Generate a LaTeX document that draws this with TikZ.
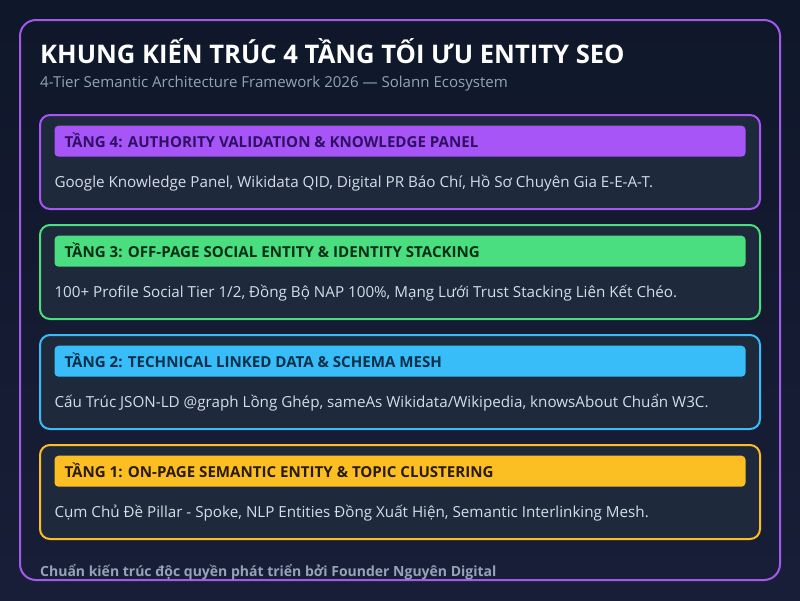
\documentclass[tikz,border=0pt]{standalone}
\usepackage{fontspec}
\setmainfont{Open Sans}
\usetikzlibrary{positioning}

\definecolor{bgtop}{HTML}{0F172A}
\definecolor{bgbottom}{HTML}{191E38}
\definecolor{framecol}{HTML}{A259EC}
\definecolor{cardfill}{HTML}{1E293B}
\definecolor{bodytext}{HTML}{D5DDE8}
\definecolor{mutedtext}{HTML}{94A3B8}
\definecolor{tierfour}{HTML}{A855F7}
\definecolor{tierthree}{HTML}{4ADE80}
\definecolor{tiertwo}{HTML}{38BDF8}
\definecolor{tierone}{HTML}{FBBF24}
\definecolor{darkfour}{HTML}{2E1065}
\definecolor{darkthree}{HTML}{052E16}
\definecolor{darktwo}{HTML}{082F49}
\definecolor{darkone}{HTML}{2A1B03}

\tikzset{
  card/.style = {draw = #1, line width = 2pt, fill = cardfill,
    rounded corners = 10pt, minimum width = 720pt, minimum height = 94pt,
    inner sep = 0pt},
  bar/.style = {fill = #1, rounded corners = 4pt, minimum width = 691pt,
    minimum height = 31pt, inner sep = 0pt},
  head/.style = {text = #1, font = \bfseries\fontsize{15.1}{18}\selectfont,
    inner sep = 0pt, text height = 15pt, text depth = 2.8pt},
  body/.style = {text = bodytext, font = \fontsize{15.2}{18}\selectfont,
    inner sep = 0pt, text height = 11pt, text depth = 4pt}
}

\begin{document}
\begin{tikzpicture}[
    x = 1pt, y = -1pt, % one unit = one pixel, y runs downwards
    ]
    \useasboundingbox (0,0) rectangle (800,600);
    \fill[top color = bgtop, bottom color = bgbottom] (0,0) rectangle (800,600);

    % outer frame
    \node[draw = framecol, line width = 2pt, rounded corners = 16pt,
      minimum width = 760pt, minimum height = 560pt, inner sep = 0pt]
      (frame) at (400,300) {};

    % title block
    \node[anchor = base west, inner sep = 0pt, text = white,
      font = \bfseries\fontsize{25.6}{30}\selectfont] (title) at (40,63.5)
      {KHUNG KIẾN TRÚC 4 TẦNG TỐI ƯU ENTITY SEO};
    \node[anchor = base west, inner sep = 0pt, text = mutedtext,
      font = \fontsize{15.05}{18}\selectfont] (subtitle) at (40,87.5)
      {4-Tier Semantic Architecture Framework 2026 — Solann Ecosystem};

    % tier 4
    \node[card = tierfour] (t4) at (400,162) {};
    \node[bar = tierfour, below = 11.5pt of t4.north] (h4) {};
    \node[head = darkfour, right = 10pt of h4.west] (h4t)
      {TẦNG 4: AUTHORITY VALIDATION \& KNOWLEDGE PANEL};
    \node[body, below right = 19.3pt and 0pt of h4.south west] (b4)
      {Google Knowledge Panel, Wikidata QID, Digital PR Báo Chí, Hồ Sơ Chuyên Gia E-E-A-T.};

    % tier 3
    \node[card = tierthree] (t3) at (400,272) {};
    \node[bar = tierthree, below = 11.5pt of t3.north] (h3) {};
    \node[head = darkthree, right = 10pt of h3.west] (h3t)
      {TẦNG 3: OFF-PAGE SOCIAL ENTITY \& IDENTITY STACKING};
    \node[body, below right = 19.3pt and 0pt of h3.south west] (b3)
      {100+ Profile Social Tier 1/2, Đồng Bộ NAP 100\%, Mạng Lưới Trust Stacking Liên Kết Chéo.};

    % tier 2
    \node[card = tiertwo] (t2) at (400,382) {};
    \node[bar = tiertwo, below = 11.5pt of t2.north] (h2) {};
    \node[head = darktwo, right = 10pt of h2.west] (h2t)
      {TẦNG 2: TECHNICAL LINKED DATA \& SCHEMA MESH};
    \node[body, below right = 19.3pt and 0pt of h2.south west] (b2)
      {Cấu Trúc JSON-LD @graph Lồng Ghép, sameAs Wikidata/Wikipedia, knowsAbout Chuẩn W3C.};

    % tier 1
    \node[card = tierone] (t1) at (400,492) {};
    \node[bar = tierone, below = 11.5pt of t1.north] (h1) {};
    \node[head = darkone, right = 10pt of h1.west] (h1t)
      {TẦNG 1: ON-PAGE SEMANTIC ENTITY \& TOPIC CLUSTERING};
    \node[body, below right = 19.3pt and 0pt of h1.south west] (b1)
      {Cụm Chủ Đề Pillar - Spoke, NLP Entities Đồng Xuất Hiện, Semantic Interlinking Mesh.};

    % footer
    \node[anchor = base west, inner sep = 0pt, text = mutedtext,
      font = \bfseries\fontsize{14}{17}\selectfont] (footer) at (40,576.5)
      {Chuẩn kiến trúc độc quyền phát triển bởi Founder Nguyên Digital};
\end{tikzpicture}
\end{document}
